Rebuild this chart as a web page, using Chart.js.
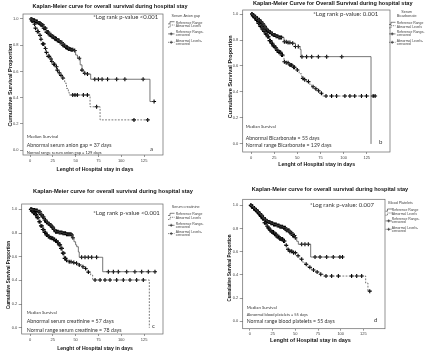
<!DOCTYPE html>
<html>
<head>
<meta charset="utf-8">
<script src="https://cdn.jsdelivr.net/npm/chart.js@4.4.1/dist/chart.umd.min.js"></script>
<style>
  html, body { margin: 0; padding: 0; background: #fff; }
  #wrap { position: relative; width: 440px; height: 352px; overflow: hidden; }
  canvas { position: absolute; }
</style>
</head>
<body>
<div id="wrap">
  <canvas id="chartA" width="220" height="176" style="left:0;top:0"></canvas>
  <canvas id="chartB" width="220" height="176" style="left:220px;top:0"></canvas>
  <canvas id="chartC" width="220" height="176" style="left:0;top:176px"></canvas>
  <canvas id="chartD" width="220" height="176" style="left:220px;top:176px"></canvas>
</div>
<script>
const xTicks = [0, 25, 50, 75, 100, 125];
const yTicks = [0.0, 0.2, 0.4, 0.6, 0.8, 1.0];
const legendLabels = ['Reference Range', 'Abnormal Levels', ['Reference Range-', 'censored'], ['Abnormal Levels-', 'censored']];

// a - serum anion gap
const anionRefT = [0, 3, 6, 9, 12, 15, 18, 21, 24, 27, 30, 33, 36, 39, 42, 45, 48, 50, 52, 55, 57, 59, 62, 64, 66.5, 131.5, 136];
const anionRefS = [1.0, 0.99, 0.98, 0.97, 0.955, 0.93, 0.90, 0.88, 0.865, 0.85, 0.835, 0.82, 0.80, 0.785, 0.77, 0.765, 0.76, 0.725, 0.70, 0.65, 0.61, 0.585, 0.58, 0.58, 0.54, 0.37, 0.37];
const anionAbnT = [0, 2, 4, 6, 8, 10, 12, 14, 16, 18, 20, 22, 24, 26, 28, 30, 32, 34, 36, 38, 40, 42, 43, 65.8, 76.8, 130];
const anionAbnS = [1.0, 0.985, 0.96, 0.93, 0.905, 0.875, 0.845, 0.81, 0.775, 0.745, 0.715, 0.695, 0.675, 0.655, 0.635, 0.61, 0.59, 0.57, 0.55, 0.51, 0.47, 0.44, 0.42, 0.33, 0.23, 0.23];
const anionRefCens = [1, 2, 3, 4, 5, 6, 7, 8, 9, 10, 11, 12, 13, 14, 15, 16, 17, 18, 19, 20, 21, 22, 23, 24, 25, 26, 27, 28, 29, 30, 31, 32, 33, 34, 35, 36, 37, 38, 39, 40, 41, 42, 43, 44, 45, 46, 47, 49, 54, 57, 60, 63, 71, 75, 79, 85, 95, 104, 124, 136];
const anionAbnCens = [2, 3, 5, 6, 8, 9, 11, 12, 14, 15, 17, 18, 20, 21, 23, 24, 26, 27, 29, 30, 32, 34, 36, 46.8, 49.3, 51.9, 58.5, 62.9, 73, 114, 129];

// b - serum bicarbonate
const bicarbRefT = [0, 2, 4, 6, 8, 10, 12, 14, 16, 18, 20, 22, 24, 27, 29.5, 35.6, 40, 44, 48, 53, 54, 129.6];
const bicarbRefS = [1.0, 0.99, 0.98, 0.965, 0.955, 0.94, 0.925, 0.905, 0.885, 0.87, 0.86, 0.85, 0.838, 0.828, 0.82, 0.787, 0.78, 0.775, 0.75, 0.728, 0.672, 0.0];
const bicarbAbnT = [0, 2, 4, 6, 8, 10, 12, 14, 16, 18, 20, 22, 24, 26, 28, 30, 33, 35.6, 38, 42, 45, 49, 52, 54.7, 57, 60, 63, 65.5, 68, 71, 74, 77.4, 134];
const bicarbAbnS = [1.0, 0.985, 0.97, 0.95, 0.928, 0.905, 0.885, 0.865, 0.845, 0.825, 0.795, 0.775, 0.755, 0.74, 0.72, 0.705, 0.685, 0.633, 0.625, 0.608, 0.59, 0.569, 0.54, 0.505, 0.495, 0.48, 0.46, 0.44, 0.425, 0.41, 0.39, 0.369, 0.369];
const bicarbRefCens = [1, 2, 3, 4, 5, 6, 7, 8, 9, 10, 11, 12, 13, 14, 15, 16, 17, 18, 19, 20, 21, 22, 23, 24, 25, 26, 27, 28, 29, 30, 31, 32, 33, 36, 38, 40, 42, 45, 48, 51, 55, 60, 65.5, 72.7, 81.7, 98];
const bicarbAbnCens = [1, 2, 3, 4, 5, 6, 7, 8, 9, 10, 11, 12, 13, 14, 15, 16, 17, 18, 19, 20, 21, 22, 23, 24, 25, 26, 27, 28, 29, 30, 31, 32, 33, 34, 36, 38, 40, 42, 43, 44, 46, 47, 50, 56, 58, 62, 67, 70, 73, 76, 81, 87, 92.4, 101.4, 106.8, 112, 119.3, 124.7, 131.9, 134];

// c - serum creatinine
const creatRefT = [0, 3, 6, 9, 12, 14, 16, 18, 20, 22, 24, 26, 28, 32, 36, 40, 45.7, 47, 48.2, 50, 51.2, 53, 54, 79.7, 137];
const creatRefS = [1.0, 0.995, 0.99, 0.98, 0.955, 0.935, 0.91, 0.89, 0.878, 0.867, 0.85, 0.83, 0.81, 0.805, 0.797, 0.79, 0.783, 0.76, 0.726, 0.70, 0.684, 0.64, 0.595, 0.473, 0.473];
const creatAbnT = [0, 2, 4, 6, 8, 10, 12, 14, 16, 18, 20, 22, 24, 26, 28, 30, 32, 34, 35.5, 37.3, 40, 42, 46, 49.3, 53, 56.7, 59, 62.1, 64, 66.5, 68.7, 130.8];
const creatAbnS = [1.0, 0.985, 0.97, 0.955, 0.93, 0.895, 0.86, 0.83, 0.805, 0.783, 0.77, 0.76, 0.755, 0.745, 0.735, 0.72, 0.70, 0.67, 0.63, 0.586, 0.57, 0.557, 0.55, 0.544, 0.53, 0.515, 0.50, 0.487, 0.47, 0.445, 0.403, 0.0];
const creatRefCens = [1, 2, 3, 4, 5, 6, 7, 8, 9, 10, 11, 12, 13, 14, 15, 16, 17, 18, 19, 20, 21, 22, 23, 24, 25, 26, 27, 28, 29, 30, 31, 32, 33, 34, 35, 36, 37, 38, 39, 40, 41, 42, 43, 44, 45, 46, 47, 56.6, 60.3, 63.9, 67.6, 73, 85.9, 91.4, 96.8, 106, 115, 122.4, 129.7, 137];
const creatAbnCens = [1, 2, 3, 4, 5, 6, 7, 8, 9, 10, 11, 12, 13, 14, 15, 16, 17, 18, 19, 20, 21, 22, 23, 24, 25, 26, 27, 28, 29, 30, 31, 32, 33, 34, 35, 36, 37, 38, 39, 40, 43, 45, 48, 51, 54, 58, 61, 64, 71.3, 76.8, 82.2, 87.7, 95, 102.3, 109.6, 116.9, 124.2];

// d - blood platelets
const pltRefT = [0, 2, 4, 6, 8, 10, 12, 14, 16, 18, 20, 23, 26, 29.4, 33, 36.7, 40, 44, 47, 49.6, 51.5, 53.3, 66.9, 102];
const pltRefS = [1.0, 0.99, 0.975, 0.96, 0.945, 0.93, 0.915, 0.895, 0.88, 0.865, 0.856, 0.845, 0.835, 0.827, 0.815, 0.807, 0.785, 0.764, 0.74, 0.72, 0.69, 0.664, 0.554, 0.554];
const pltAbnT = [0, 2, 4, 6, 8, 10, 12, 14, 16, 18.4, 20, 22, 24, 27, 30, 33, 36.7, 38.5, 40.4, 44, 47.8, 51, 55.1, 58, 60.6, 64, 68, 72, 77.2, 80.8, 127.5, 130, 132];
const pltAbnS = [1.0, 0.99, 0.975, 0.96, 0.945, 0.925, 0.905, 0.885, 0.85, 0.821, 0.805, 0.785, 0.77, 0.75, 0.728, 0.71, 0.692, 0.655, 0.62, 0.605, 0.592, 0.565, 0.535, 0.51, 0.491, 0.465, 0.442, 0.425, 0.405, 0.39, 0.33, 0.26, 0.26];
const pltRefCens = [1, 2, 3, 4, 5, 6, 7, 8, 9, 10, 11, 12, 13, 14, 15, 16, 17, 18, 19, 20, 21, 22, 23, 24, 25, 26, 27, 28, 29, 30, 31, 32, 33, 34, 35, 36, 37, 38, 39, 40, 41, 42, 43, 44, 45, 46, 47, 48, 49, 50, 57, 60.6, 64.3, 71.7, 77.2, 84.5, 91.8, 99.1, 102];
const pltAbnCens = [1, 2, 3, 4, 5, 6, 7, 8, 9, 10, 11, 12, 13, 14, 15, 16, 17, 18, 19, 20, 21, 22, 23, 24, 25, 26, 27, 28, 29, 30, 31, 32, 33, 34, 35, 36, 37, 38, 40, 42, 44, 46, 48, 50, 53, 57, 62, 66, 70, 74, 78, 83.8, 90, 97.4, 112, 117.6, 123.1, 132];

const yTitle = 'Cumulative Survival Proportion';
const xTitle = 'Lenght of Hospital stay in days';

// step lookup: value of the KM curve at time t
function survAt(ts, ss, t) {
    let s = ss[0];
    for (let i = 0; i < ts.length; i++) {
        if (ts[i] <= t) s = ss[i];
    }
    return s;
}

// draw text scaled so it spans width w
function fitText(ctx, text, x, y, w, weight, family) {
    ctx.font = weight + ' 10px ' + family;
    const size = 10 * w / ctx.measureText(text).width;
    ctx.font = weight + ' ' + size.toFixed(2) + 'px ' + family;
    ctx.fillText(text, x, y);
}

function legendGlyph(ctx, kind, x, y) {
    ctx.save();
    ctx.strokeStyle = '#333';
    ctx.lineWidth = 0.6;
    if (kind < 2) {
        if (kind === 1) ctx.setLineDash([1.2, 0.8]);
        ctx.beginPath();
        ctx.moveTo(x, y + 1.2);
        ctx.lineTo(x + 2, y + 1.2);
        ctx.lineTo(x + 2, y - 1);
        ctx.lineTo(x + 6.5, y - 1);
        ctx.stroke();
    } else {
        if (kind === 3) ctx.setLineDash([1.2, 0.8]);
        ctx.beginPath();
        ctx.moveTo(x, y);
        ctx.lineTo(x + 6.5, y);
        ctx.stroke();
        ctx.setLineDash([]);
        ctx.lineWidth = 0.8;
        ctx.beginPath();
        ctx.moveTo(x + 3.2, y - 1.5);
        ctx.lineTo(x + 3.2, y + 1.5);
        ctx.moveTo(x + 1.8, y);
        ctx.lineTo(x + 4.6, y);
        ctx.stroke();
    }
    ctx.restore();
}

const decorPlugin = {
    id: 'decor',
    afterDraw(chart, args, o) {
        const { ctx, chartArea: a } = chart;
        ctx.save();
        ctx.strokeStyle = '#666';
        ctx.lineWidth = 0.7;
        ctx.strokeRect(a.left, a.top, a.right - a.left, a.bottom - a.top);

        ctx.fillStyle = '#111';
        ctx.textBaseline = 'middle';
        ctx.textAlign = 'center';
        fitText(ctx, o.title, o.titlePos[0], o.titlePos[1], o.titlePos[2], 'bold', '"Liberation Sans", Arial');
        fitText(ctx, xTitle, o.xTitlePos[0], o.xTitlePos[1], o.xTitlePos[2], 'bold', '"Liberation Sans", Arial');
        ctx.save();
        ctx.translate(o.yTitlePos[0], o.yTitlePos[1]);
        ctx.rotate(-Math.PI / 2);
        fitText(ctx, yTitle, 0, 0, o.yTitlePos[2], 'bold', '"Liberation Sans", Arial');
        ctx.restore();

        ctx.fillStyle = '#333';
        ctx.textAlign = 'left';
        fitText(ctx, o.pValue, o.pPos[0], o.pPos[1], o.pPos[2], 'normal', 'Lato');
        o.median.forEach((line, i) => {
            fitText(ctx, line, o.medX, o.medY[i], o.medW[i], 'normal', 'Lato');
        });
        ctx.font = '6px Lato';
        ctx.fillText(o.letter, o.letterPos[0], o.letterPos[1]);

        // legend
        ctx.fillStyle = '#444';
        ctx.font = '3.7px "Liberation Sans", Arial';
        ctx.textAlign = o.legTitleAlign;
        o.legTitle.forEach((t, i) => ctx.fillText(t, o.legTitleX, o.legTitleY[i]));
        ctx.textAlign = 'left';
        ctx.font = '3.4px "Liberation Sans", Arial';
        legendLabels.forEach((lab, i) => {
            const lines = Array.isArray(lab) ? lab : [lab];
            const y0 = o.legY[i];
            lines.forEach((t, j) => ctx.fillText(t, o.legTextX, y0 + j * 3.2));
            legendGlyph(ctx, i, o.legGlyphX, y0 + (lines.length - 1) * 1.6);
        });
        ctx.restore();
    }
};

function makeChart(id, p) {
    const lineStyle = { stepped: 'before', borderColor: '#4a4a4a', borderWidth: 0.75, pointRadius: 0, fill: false };
    const markStyle = { showLine: false, pointStyle: 'cross', pointRadius: 2, borderColor: '#000', borderWidth: 1.1 };
    return new Chart(document.getElementById(id), {
        type: 'line',
        data: {
            datasets: [
                { ...lineStyle, data: p.refT.map((t, i) => ({ x: t, y: p.refS[i] })) },
                { ...lineStyle, borderDash: [1.8, 1.4], data: p.abnT.map((t, i) => ({ x: t, y: p.abnS[i] })) },
                { ...markStyle, data: p.refC.map(t => ({ x: t, y: survAt(p.refT, p.refS, t) })) },
                { ...markStyle, data: p.abnC.map(t => ({ x: t, y: survAt(p.abnT, p.abnS, t) })) }
            ]
        },
        options: {
            responsive: false,
            animation: false,
            events: [],
            layout: { padding: p.pad },
            plugins: {
                legend: { display: false },
                tooltip: { enabled: false },
                decor: p.text
            },
            scales: {
                x: {
                    type: 'linear',
                    min: p.xRange[0], max: p.xRange[1],
                    afterBuildTicks: s => { s.ticks = xTicks.map(v => ({ value: v })); },
                    afterFit: s => { s.height = 10; },
                    grid: { drawOnChartArea: false, drawTicks: true, tickLength: 2, color: '#555', lineWidth: 0.6 },
                    border: { display: false },
                    ticks: { font: { size: 4, family: '"Liberation Sans", Arial' }, color: '#444', padding: 1, maxRotation: 0, autoSkip: false }
                },
                y: {
                    type: 'linear',
                    min: p.yRange[0], max: p.yRange[1],
                    afterBuildTicks: s => { s.ticks = yTicks.map(v => ({ value: v })); },
                    afterFit: s => { s.width = 14; },
                    grid: { drawOnChartArea: false, drawTicks: true, tickLength: 3, color: '#555', lineWidth: 0.6 },
                    border: { display: false },
                    ticks: { font: { size: 4, family: '"Liberation Sans", Arial' }, color: '#444', padding: 1.5,
                        callback: v => v.toFixed(1) }
                }
            }
        },
        plugins: [decorPlugin]
    });
}

makeChart('chartA', {
    refT: anionRefT, refS: anionRefS, abnT: anionAbnT, abnS: anionAbnS, refC: anionRefCens, abnC: anionAbnCens,
    pad: { left: 9, top: 14, right: 57, bottom: 11 },
    xRange: [-7.7, 145.8], yRange: [-0.038, 1.038],
    text: {
        title: 'Kaplan-Meier curve for overall survival during hospital stay', titlePos: [110, 6, 155],
        xTitlePos: [95, 170, 77], yTitlePos: [10, 85, 83],
        pValue: '*Log rank p-value <0.001', pPos: [93.3, 17.3, 65],
        median: ['Median Survival', 'Abnormal serum anion gap = 37 days', 'Normal range serum anion gap = 129 days'],
        medX: 26.7, medY: [136.7, 145, 153], medW: [31.7, 85, 75],
        letter: 'a', letterPos: [150, 149],
        legTitle: ['Serum Anion gap'], legTitleAlign: 'left', legTitleX: 171.5, legTitleY: [15.7],
        legY: [22.7, 26, 32.3, 40.7], legTextX: 175.7, legGlyphX: 168
    }
});

makeChart('chartB', {
    refT: bicarbRefT, refS: bicarbRefS, abnT: bicarbAbnT, abnS: bicarbAbnS, refC: bicarbRefCens, abnC: bicarbAbnCens,
    pad: { left: 8.7, top: 10, right: 50, bottom: 14 },
    xRange: [-9, 150.1], yRange: [-0.062, 1.031],
    text: {
        title: 'Kaplan-Meier Curve for Overall Survival during hospital stay', titlePos: [112.7, 3.6, 160],
        xTitlePos: [96.7, 165, 77], yTitlePos: [10, 76.7, 83],
        pValue: '*Log rank p-value: 0.001', pPos: [93.3, 14, 65],
        median: ['Median Survival', 'Abnormal Bicarbonate = 55 days', 'Normal range Bicarbonate = 129 days'],
        medX: 25.7, medY: [126.7, 138.3, 145.7], medW: [30, 74, 86],
        letter: 'b', letterPos: [159, 141.7],
        legTitle: ['Serum', 'Bicarbonate'], legTitleAlign: 'center', legTitleX: 186.7, legTitleY: [11.7, 15.7],
        legY: [23.3, 26.7, 32.3, 40.7], legTextX: 176.7, legGlyphX: 169
    }
});

makeChart('chartC', {
    refT: creatRefT, refS: creatRefS, abnT: creatAbnT, abnS: creatAbnS, refC: creatRefCens, abnC: creatAbnCens,
    pad: { left: 7.7, top: 28, right: 57, bottom: 8 },
    xRange: [-9.1, 145.8], yRange: [-0.053, 1.045],
    text: {
        title: 'Kaplan-Meier curve for overall survival during hospital stay', titlePos: [113, 15.7, 160],
        xTitlePos: [95, 172.7, 76], yTitlePos: [8.3, 99, 68],
        pValue: '*Log rank p-value <0.001', pPos: [93.3, 36.7, 66.7],
        median: ['Median Survival', 'Abnormal serum creatinine = 57 days', 'Normal range serum creatinine = 78 days'],
        medX: 26.7, medY: [136.7, 145.7, 154], medW: [30, 87, 95],
        letter: 'c', letterPos: [152, 150],
        legTitle: ['Serum creatinine'], legTitleAlign: 'left', legTitleX: 171.7, legTitleY: [31],
        legY: [38.3, 42.3, 47.7, 56], legTextX: 175.7, legGlyphX: 168
    }
});

makeChart('chartD', {
    refT: pltRefT, refS: pltRefS, abnT: pltAbnT, abnS: pltAbnS, refC: pltRefCens, abnC: pltAbnCens,
    pad: { left: 8.7, top: 23.3, right: 55, bottom: 13.3 },
    xRange: [-8, 148.8], yRange: [-0.064, 1.052],
    text: {
        title: 'Kaplan-Meier curve for overall survival during hospital stay', titlePos: [110, 13.3, 156.6],
        xTitlePos: [90.5, 164, 81], yTitlePos: [10, 92, 67],
        pValue: '*Log rank p-value: 0.007', pPos: [90, 29.3, 64],
        median: ['Median Survival', 'Abnormal blood platelets = 55 days', 'Normal range blood platelets = 55 days'],
        medX: 26.7, medY: [131.7, 138.3, 145.7], medW: [30, 61, 88],
        letter: 'd', letterPos: [154, 144],
        legTitle: ['Blood Platelets'], legTitleAlign: 'left', legTitleX: 168.3, legTitleY: [26.7],
        legY: [34, 38, 43.3, 51.7], legTextX: 171.7, legGlyphX: 165.5
    }
});
</script>
</body>
</html>
